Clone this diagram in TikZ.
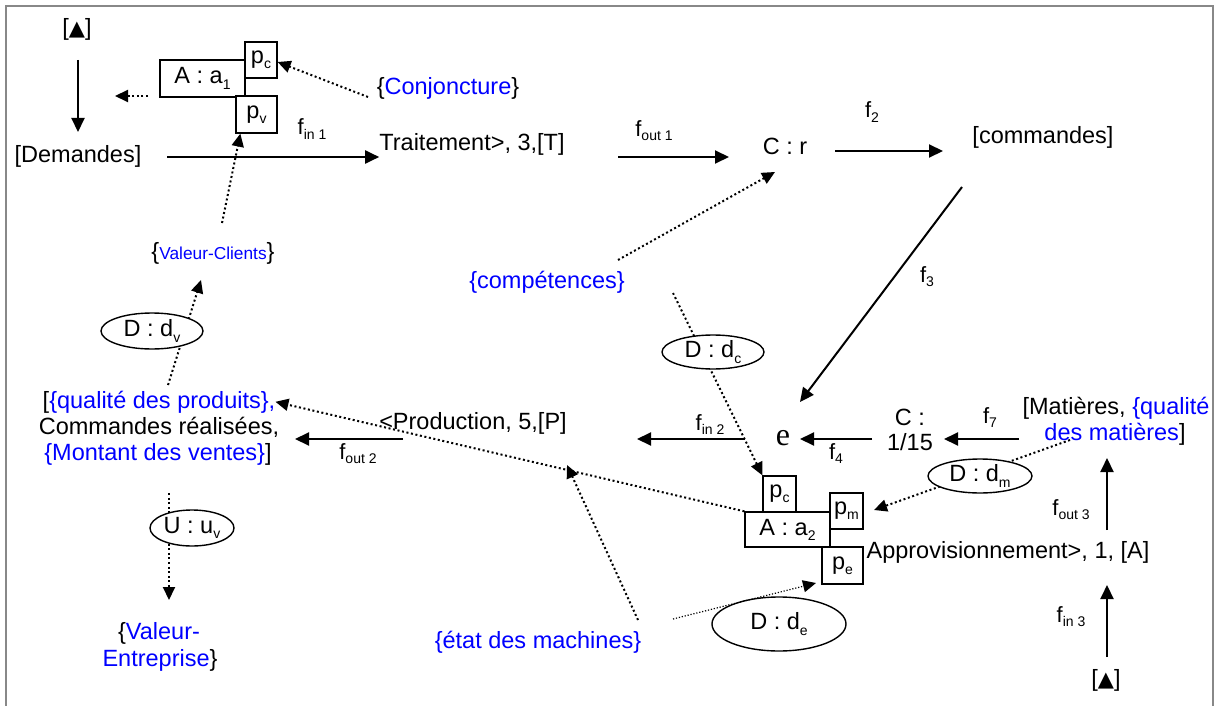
\documentclass[tikz,border=0pt]{standalone}
\usepackage{fontspec}
\setmainfont{Liberation Sans}
\newfontfamily\serife{Liberation Serif}
\newfontfamily\dejavu{DejaVu Sans}
\usetikzlibrary{arrows.meta,shapes.geometric}
\definecolor{wblue}{HTML}{0000FF}
\definecolor{framegray}{HTML}{888888}
\newcommand\mfs{\fontsize{23.5}{26}\selectfont}
\newcommand\lfs{\fontsize{22}{24}\selectfont}
\newcommand\sbs[1]{\raisebox{-0.22em}{\fontsize{14}{14}\selectfont #1}}
\newcommand\bl[1]{\textcolor{wblue}{#1}}
\newcommand\tri{{\dejavu\fontsize{21}{21}\selectfont ▲}}
\pgfdeclarelayer{bg}
\pgfsetlayers{bg,main}
\begin{document}
\begin{tikzpicture}[x=1pt,y=-1pt,
  t/.style={inner sep=0pt, anchor=base, font=\mfs},
  lab/.style={inner sep=0pt, anchor=base, font=\lfs},
  bx/.style={draw, line width=1.3pt, inner sep=0pt, font=\mfs, fill=white},
  ell/.style={draw, ellipse, line width=1.4pt, inner sep=0pt, fill=white, font=\mfs},
  arr/.style={line width=2pt, -{Triangle[length=14pt,width=13pt]}},
  dotarr/.style={line width=2pt, dash pattern=on 2pt off 2.6pt, -{Triangle[length=13pt,width=12pt]}},
  thindot/.style={line width=1.2pt, dash pattern=on 1.2pt off 1.8pt, -{Triangle[length=13pt,width=12pt]}},
  dotline/.style={line width=2pt, dash pattern=on 2pt off 2.6pt}]
\useasboundingbox (0,0) rectangle (1218,706);
\draw[framegray, line width=2pt] (6,706) -- (6,6) -- (1213,6) -- (1213,706);

% ---- nodes ----
\node[t] (tri1) at (77,36) {[\tri]};
\node[t] (dem) at (78,163) {[Demandes]};
\node[bx, minimum width=85pt, minimum height=37pt] (a1) at (202.5,78.5) {A : a\sbs{1}};
\node[bx, minimum width=32pt, minimum height=36pt] (pc1) at (261,60) {p\sbs{c}};
\node[bx, minimum width=41pt, minimum height=37pt] (pv1) at (256.5,114.5) {p\sbs{v}};
\node[t] (conj) at (448,95) {\{\bl{Conjoncture}\}};
\node[lab] (lfin1) at (312,135) {f\sbs{in 1}};
\node[t] (trait) at (472,150) {Traitement>, 3,[T]};
\node[lab] (lfout1) at (654,136) {f\sbs{out 1}};
\node[t] (cr) at (785,154) {C : r};
\node[lab] (lf2) at (872,118) {f\sbs{2}};
\node[t] (cmd) at (1043,144) {[commandes]};
\node[t] (vc) at (213,259) {\{\bl{\fontsize{17.3}{20}\selectfont Valeur-Clients}\}};
\node[t, text=wblue] (comp) at (547,288) {\{compétences\}};
\node[lab] (lf3) at (927,282) {f\sbs{3}};
\node[ell, minimum width=102pt, minimum height=36pt] (ddv) at (152,331) {D : d\sbs{v}};
\node[ell, minimum width=102pt, minimum height=34pt] (ddc) at (713,352) {D : d\sbs{c}};
\node[t] (qual1) at (159,408) {[\bl{\{qualité des produits\},}};
\node[t] (qual2) at (159,434) {Commandes réalisées,};
\node[t] (qual3) at (158,460) {\bl{\{Montant des ventes\}}]};
\node[t] (prod) at (473,429) {<Production, 5,[P]};
\node[lab] (lfout2) at (358,459) {f\sbs{out 2}};
\node[lab] (lfin2) at (710,430) {f\sbs{in 2}};
\node[t, font=\serife\fontsize{32}{34}\selectfont] (e) at (783,445) {e};
\node[lab] (lf4) at (836,459) {f\sbs{4}};
\node[t] (c1) at (910,425) {C :};
\node[t] (c2) at (910,450) {1/15};
\node[lab] (lf7) at (990,423) {f\sbs{7}};
\node[t] (mat1) at (1116,414) {[Matières, \bl{\{qualité}};
\node[t] (mat2) at (1115,440) {\bl{des matières}]};
\node[ell, minimum width=104pt, minimum height=34pt] (ddm) at (980,476) {D : d\sbs{m}};
\node[bx, minimum width=85pt, minimum height=35pt] (a2) at (787.5,529.5) {A : a\sbs{2}};
\node[bx, minimum width=33pt, minimum height=36pt] (pc2) at (779.5,494) {p\sbs{c}};
\node[bx, minimum width=33pt, minimum height=36pt] (pm) at (846.5,511) {p\sbs{m}};
\node[bx, minimum width=41pt, minimum height=37pt] (pe) at (842.5,565.5) {p\sbs{e}};
\node[lab] (lfout3) at (1071,515) {f\sbs{out 3}};
\node[t] (appro) at (1008,558) {Approvisionnement>, 1, [A]};
\node[ell, minimum width=84pt, minimum height=36pt] (duv) at (192,528) {U : u\sbs{v}};
\node[lab] (lfin3) at (1071,622) {f\sbs{in 3}};
\node[ell, minimum width=134pt, minimum height=54pt] (dde) at (779,624) {D : d\sbs{e}};
\node[t] (ve1) at (159,639) {\{\bl{Valeur-}};
\node[t] (ve2) at (160,666) {\bl{Entreprise}\}};
\node[t, text=wblue] (etat) at (538,648) {\{état des machines\}};
\node[t] (tri2) at (1106,686) {[\tri]};

% ---- free ends ----
\coordinate (tri1-s) at (78,60);
\coordinate (dem-n) at (78,132);
\coordinate (a1-w) at (148,96);
\coordinate (a1-wt) at (115,96);
\coordinate (conj-s) at (368,97);
\coordinate (dem-e) at (167,157);
\coordinate (vc-n) at (222,223);
\coordinate (trait-e) at (618,157);
\coordinate (cr-w) at (729,157);
\coordinate (cr-e) at (835,151);
\coordinate (cmd-w) at (943,151);
\coordinate (cmd-s) at (962,187);
\coordinate (e-n) at (800,402);
\coordinate (comp-ne) at (618,260);
\coordinate (cr-s) at (775,172);
\coordinate (comp-se) at (673,293);
\coordinate (e-w) at (745,439);
\coordinate (prod-e) at (637,439);
\coordinate (c-w) at (872,439);
\coordinate (e-e) at (800,439);
\coordinate (mat-w) at (1019,439);
\coordinate (c-e) at (944,439);
\coordinate (prod-w) at (403,439);
\coordinate (qual-e) at (295,439);
\coordinate (qual-n) at (168,385);
\coordinate (vc-s) at (201,280);
\coordinate (qual-s) at (169,493);
\coordinate (ve-n) at (169,600);
\coordinate (etat-ne) at (638,620);
\coordinate (mid) at (567,465);
\coordinate (mat-s) at (1070,440);
\coordinate (pm-e) at (874,510);
\coordinate (etat-e) at (673,619);
\coordinate (pe-sw) at (816,583);
\coordinate (appro-n) at (1107,530);
\coordinate (mat-b) at (1107,458);
\coordinate (tri2-n) at (1107,657);
\coordinate (appro-s) at (1107,585);

% ---- connectors ----
\begin{pgfonlayer}{bg}
\draw[arr] (tri1-s) -- (dem-n);
\draw[dotarr] (a1-w) -- (a1-wt);
\draw[dotarr] (conj-s) -- ([yshift=-2pt]pc1.east);
\draw[arr] (dem-e) -- (dem-e -| trait.west);
\draw[dotarr] (vc-n) -- ([xshift=5pt]pv1.south west);
\draw[arr] (trait-e) -- (cr-w);
\draw[arr] (cr-e) -- (cmd-w);
\draw[arr] (cmd-s) -- (e-n);
\draw[dotarr] (comp-ne) -- (cr-s);
\draw[dotarr] (comp-se) -- (pc2.north west);
\draw[arr] (e-w) -- (prod-e);
\draw[arr] (c-w) -- (e-e);
\draw[arr] (mat-w) -- (c-e);
\draw[arr] (prod-w) -- (qual-e);
\draw[dotarr] (qual-n) -- (vc-s);
\draw[dotarr] (qual-s) -- (ve-n);
\draw[dotarr] (a2.north west) -- (qual1.east);
\draw[dotarr] (etat-ne) -- (mid);
\draw[dotarr] (mat-s) -- (pm-e);
\draw[arr] (appro-n) -- (mat-b);
\draw[arr] (tri2-n) -- (appro-s);
\end{pgfonlayer}
\draw[thindot] (etat-e) -- (pe-sw);
\end{tikzpicture}
\end{document}
